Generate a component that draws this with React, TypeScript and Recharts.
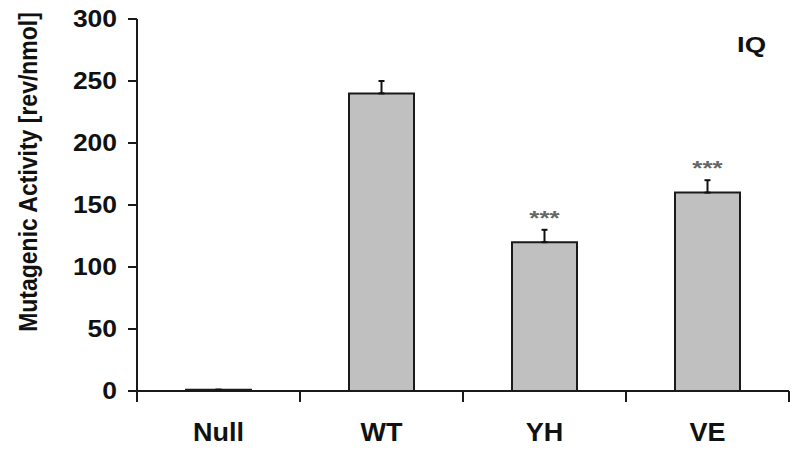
import { BarChart, Bar, XAxis, YAxis, ErrorBar, LabelList } from 'recharts'

const categories = ['Null', 'WT', 'YH', 'VE']
const activity = [1, 240, 120, 160]
const errorUp = [0, 10, 10, 10]
const significance = ['', '', '***', '***']
const yTicks = [0, 50, 100, 150, 200, 250, 300]

const data = categories.map((name, i) => ({
  name,
  value: activity[i],
  err: [0, errorUp[i]],
  sig: significance[i],
}))

const W = 800
const H = 455
const margin = { top: 19, right: 11, bottom: 34, left: 0 }
const xAxisHeight = 30
const yAxisWidth = 137
const bandHalf = (W - margin.right - yAxisWidth) / categories.length / 2
const font = '"Liberation Sans", Arial, Helvetica, sans-serif'
const ink = '#1a1a1a'

function XTick({ x, y, payload, index }: any) {
  return (
    <g>
      <line x1={x - bandHalf} x2={x - bandHalf} y1={y} y2={y + 11} stroke={ink} strokeWidth={2} />
      {index === categories.length - 1 && (
        <line x1={x + bandHalf} x2={x + bandHalf} y1={y} y2={y + 11} stroke={ink} strokeWidth={2} />
      )}
      <text
        transform={`translate(${x},${y + 50}) scale(1.08,1)`}
        textAnchor="middle"
        fontFamily={font}
        fontWeight="bold"
        fontSize={25}
        fill="#111"
      >
        {payload.value}
      </text>
    </g>
  )
}

function YTick({ x, y, payload }: any) {
  return (
    <text
      transform={`translate(${x + 2},${y}) scale(1.15,1)`}
      textAnchor="end"
      dy="0.36em"
      fontFamily={font}
      fontWeight="bold"
      fontSize={23}
      fill="#111"
    >
      {payload.value}
    </text>
  )
}

function YLabel() {
  return (
    <text
      transform="translate(37,172) scale(1.15,1) rotate(-90)"
      textAnchor="middle"
      fontFamily={font}
      fontWeight="bold"
      fontSize={23}
      fill="#111"
    >
      Mutagenic Activity [rev/nmol]
    </text>
  )
}

function SigLabel({ x, y, width, height, value, index }: any) {
  if (!value) return null
  const errPx = (errorUp[index] * height) / activity[index]
  return (
    <text
      transform={`translate(${x + width / 2},${y - errPx - 5}) scale(1.3,1)`}
      textAnchor="middle"
      fontFamily={font}
      fontWeight="bold"
      fontSize={20}
      fill="#666"
    >
      {value}
    </text>
  )
}

export default function App() {
  return (
    <div style={{ position: 'absolute', left: 0, top: 0, width: W, height: H, background: '#fff' }}>
      <BarChart width={W} height={H} data={data} margin={margin} barCategoryGap="30%">
        <XAxis
          dataKey="name"
          height={xAxisHeight}
          axisLine={{ stroke: ink, strokeWidth: 2 }}
          tickLine={false}
          tickSize={0}
          tickMargin={0}
          tick={<XTick />}
          interval={0}
        />
        <XAxis xAxisId="top" orientation="top" dataKey="name" height={0} tick={false} tickLine={false} axisLine={{ stroke: ink, strokeWidth: 2 }} />
        <YAxis
          domain={[0, 300]}
          ticks={yTicks}
          width={yAxisWidth}
          tickSize={9}
          tickMargin={13}
          axisLine={{ stroke: ink, strokeWidth: 2 }}
          tickLine={{ stroke: ink, strokeWidth: 2 }}
          tick={<YTick />}
          label={<YLabel />}
          interval={0}
        />
        <YAxis yAxisId="right" orientation="right" domain={[0, 300]} width={0} tick={false} tickLine={false} axisLine={{ stroke: ink, strokeWidth: 2 }} />
        <Bar dataKey="value" fill="#c0c0c0" stroke={ink} strokeWidth={2} barSize={65} isAnimationActive={false}>
          <ErrorBar dataKey="err" direction="y" width={3} stroke="#111" strokeWidth={2} isAnimationActive={false} />
          <LabelList dataKey="sig" content={<SigLabel />} />
        </Bar>
      </BarChart>
      <div
        style={{
          position: 'absolute',
          left: 737,
          top: 32,
          fontFamily: font,
          fontWeight: 'bold',
          fontSize: 22,
          color: '#111',
          transform: 'scaleX(1.25)',
          transformOrigin: 'left top',
        }}
      >
        IQ
      </div>
    </div>
  )
}
